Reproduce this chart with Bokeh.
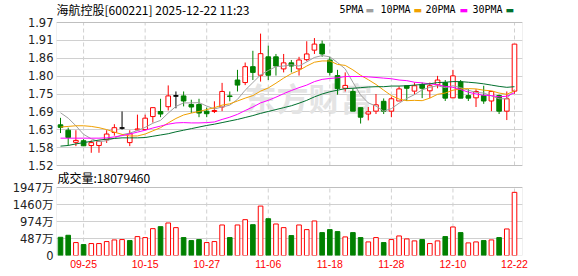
from bokeh.plotting import figure
from bokeh.models import Range1d, FixedTicker, Label, ColumnDataSource, BoxAnnotation
from bokeh.embed import file_html
from bokeh.resources import INLINE

# ---------------- data ----------------
dates = ["09-22", "09-23", "09-24", "09-25", "09-26", "09-29", "09-30", "10-09", "10-10", "10-13",
         "10-14", "10-15", "10-16", "10-17", "10-20", "10-21", "10-22", "10-23", "10-24", "10-27",
         "10-28", "10-29", "10-30", "10-31", "11-03", "11-04", "11-05", "11-06", "11-07", "11-10",
         "11-11", "11-12", "11-13", "11-14", "11-17", "11-18", "11-19", "11-20", "11-21", "11-24",
         "11-25", "11-26", "11-27", "11-28", "12-01", "12-02", "12-03", "12-04", "12-05", "12-08",
         "12-09", "12-10", "12-11", "12-12", "12-15", "12-16", "12-17", "12-18", "12-19", "12-22"]

opens = [1.648, 1.631, 1.593, 1.598, 1.583, 1.583, 1.601, 1.624, 1.638, 1.592,
         1.632, 1.633, 1.674, 1.690, 1.705, 1.739, 1.739, 1.712, 1.712, 1.691,
         1.690, 1.704, 1.739, 1.789, 1.781, 1.831, 1.804, 1.862, 1.862, 1.824,
         1.843, 1.824, 1.853, 1.883, 1.902, 1.852, 1.803, 1.763, 1.753, 1.702,
         1.682, 1.691, 1.722, 1.691, 1.723, 1.771, 1.754, 1.775, 1.755, 1.774,
         1.781, 1.733, 1.783, 1.740, 1.733, 1.740, 1.723, 1.740, 1.691, 1.754]
highs = [1.670, 1.639, 1.631, 1.603, 1.599, 1.598, 1.631, 1.650, 1.690, 1.631,
         1.680, 1.680, 1.702, 1.730, 1.772, 1.753, 1.753, 1.727, 1.730, 1.702,
         1.722, 1.780, 1.753, 1.821, 1.844, 1.881, 1.935, 1.897, 1.871, 1.871,
         1.852, 1.862, 1.911, 1.921, 1.913, 1.862, 1.821, 1.813, 1.762, 1.702,
         1.704, 1.745, 1.731, 1.737, 1.769, 1.771, 1.781, 1.781, 1.781, 1.802,
         1.789, 1.821, 1.789, 1.760, 1.760, 1.771, 1.753, 1.743, 1.753, 1.902]
lows = [1.622, 1.583, 1.581, 1.581, 1.560, 1.560, 1.591, 1.614, 1.633, 1.581,
        1.630, 1.631, 1.655, 1.672, 1.693, 1.700, 1.706, 1.685, 1.672, 1.672,
        1.685, 1.691, 1.722, 1.753, 1.773, 1.789, 1.784, 1.789, 1.803, 1.813,
        1.813, 1.803, 1.848, 1.871, 1.862, 1.803, 1.743, 1.753, 1.691, 1.652,
        1.662, 1.682, 1.682, 1.672, 1.723, 1.723, 1.743, 1.732, 1.732, 1.763,
        1.723, 1.732, 1.732, 1.723, 1.704, 1.714, 1.691, 1.682, 1.663, 1.746]
closes = [1.640, 1.608, 1.599, 1.582, 1.592, 1.596, 1.619, 1.639, 1.638, 1.620,
          1.635, 1.669, 1.702, 1.682, 1.739, 1.739, 1.723, 1.704, 1.685, 1.683,
          1.693, 1.753, 1.737, 1.773, 1.831, 1.813, 1.872, 1.804, 1.833, 1.843,
          1.833, 1.852, 1.871, 1.902, 1.871, 1.813, 1.762, 1.772, 1.691, 1.672,
          1.689, 1.711, 1.691, 1.730, 1.761, 1.763, 1.771, 1.763, 1.771, 1.789,
          1.732, 1.802, 1.732, 1.732, 1.753, 1.723, 1.753, 1.691, 1.730, 1.902]

ma5 = [1.686, 1.669, 1.645, 1.618, 1.604, 1.595, 1.598, 1.606, 1.617, 1.622,
       1.630, 1.640, 1.653, 1.662, 1.685, 1.706, 1.717, 1.717, 1.718, 1.707,
       1.698, 1.704, 1.710, 1.728, 1.757, 1.781, 1.805, 1.819, 1.831, 1.833,
       1.837, 1.833, 1.846, 1.860, 1.866, 1.862, 1.844, 1.824, 1.782, 1.742,
       1.717, 1.707, 1.691, 1.699, 1.716, 1.731, 1.743, 1.758, 1.766, 1.771,
       1.765, 1.771, 1.765, 1.757, 1.750, 1.748, 1.739, 1.730, 1.730, 1.760]
ma10 = [1.641, 1.643, 1.645, 1.645, 1.643, 1.639, 1.633, 1.625, 1.618, 1.613,
        1.613, 1.619, 1.629, 1.639, 1.654, 1.668, 1.679, 1.685, 1.690, 1.696,
        1.702, 1.710, 1.714, 1.723, 1.732, 1.740, 1.754, 1.764, 1.779, 1.795,
        1.809, 1.819, 1.833, 1.845, 1.849, 1.849, 1.838, 1.835, 1.821, 1.804,
        1.790, 1.775, 1.757, 1.740, 1.729, 1.724, 1.725, 1.724, 1.732, 1.744,
        1.748, 1.757, 1.761, 1.762, 1.761, 1.757, 1.755, 1.748, 1.744, 1.755]
ma20 = [1.606, 1.606, 1.606, 1.606, 1.606, 1.606, 1.607, 1.610, 1.614, 1.619,
        1.625, 1.631, 1.638, 1.644, 1.650, 1.654, 1.655, 1.654, 1.654, 1.655,
        1.657, 1.665, 1.672, 1.681, 1.693, 1.704, 1.717, 1.725, 1.735, 1.746,
        1.756, 1.765, 1.773, 1.784, 1.791, 1.794, 1.796, 1.800, 1.800, 1.800,
        1.799, 1.797, 1.795, 1.793, 1.789, 1.787, 1.782, 1.780, 1.777, 1.774,
        1.769, 1.766, 1.759, 1.751, 1.745, 1.741, 1.740, 1.736, 1.738, 1.749]
ma30 = [1.581, 1.583, 1.588, 1.592, 1.596, 1.600, 1.603, 1.605, 1.607, 1.607,
        1.607, 1.608, 1.612, 1.616, 1.620, 1.626, 1.631, 1.636, 1.641, 1.646,
        1.650, 1.655, 1.660, 1.665, 1.671, 1.677, 1.684, 1.690, 1.696, 1.702,
        1.708, 1.716, 1.725, 1.736, 1.745, 1.752, 1.757, 1.762, 1.763, 1.765,
        1.767, 1.768, 1.768, 1.770, 1.770, 1.771, 1.773, 1.775, 1.777, 1.781,
        1.782, 1.784, 1.784, 1.782, 1.780, 1.777, 1.773, 1.769, 1.766, 1.768]

# volume in units of 万 (10,000 shares)
volume = [522, 579, 370, 313, 342, 342, 399, 446, 456, 427,
          541, 513, 769, 826, 931, 798, 513, 427, 456, 370,
          399, 874, 513, 874, 1026, 883, 1415, 1054, 902, 798,
          570, 874, 741, 988, 655, 741, 684, 532, 655, 513,
          389, 513, 370, 456, 560, 475, 418, 456, 342, 418,
          541, 817, 655, 361, 389, 427, 446, 513, 760, 1808]
# 1 = red (up) volume bar, 0 = green (down) volume bar
vol_up = [0, 0, 1, 0, 1, 1, 1, 1, 1, 0,
          1, 1, 1, 0, 1, 1, 0, 0, 0, 1,
          1, 1, 0, 1, 1, 0, 1, 0, 1, 1,
          0, 1, 1, 1, 0, 0, 0, 1, 0, 0,
          1, 1, 0, 1, 1, 1, 1, 0, 1, 1,
          0, 1, 0, 1, 1, 0, 1, 0, 1, 1]

price_ticks = [1.52, 1.57625, 1.6325, 1.68875, 1.745, 1.80125, 1.8575, 1.91375, 1.97]
price_tick_labels = ["1.52", "1.58", "1.63", "1.69", "1.75", "1.80", "1.86", "1.91", "1.97"]
vol_ticks = [0, 486.75, 973.5, 1460.25, 1947]
vol_tick_labels = ["0", "487万", "974万", "1460万", "1947万"]
date_tick_labels = ["09-25", "10-15", "10-27", "11-06", "11-18", "11-28", "12-10", "12-22"]

title_text = "海航控股[600221] 2025-12-22 11:23"
vol_title_text = "成交量:18079460"
ma_names = ["5PMA", "10PMA", "20PMA", "30PMA"]
ma_colors = ["#a0a0a0", "#f0a000", "#ff00ff", "#00702e"]

# ---------------- layout / styling ----------------
RED = "#ff0000"
GREEN = "#008000"
GRID = "#d0d0d0"
FRAME = "#999999"
CJK = "Noto Sans CJK SC"
AXFONT = "DejaVu Sans, Noto Sans CJK SC"

W, H = 578, 276
BORDER_L, BORDER_R, BORDER_B = 56, 56, 21
FRAME_H = H - BORDER_B                 # frame spans canvas y 0..255
PRICE_TOP, PRICE_BOT = 22, 165         # price box, canvas px
VOL_TOP, VOL_BOT = 187, 255            # volume box, canvas px

ppu = (PRICE_BOT - PRICE_TOP) / (price_ticks[-1] - price_ticks[0])
p_start = price_ticks[0] - (FRAME_H - PRICE_BOT) / ppu
p_end = price_ticks[-1] + PRICE_TOP / ppu
vppu = (VOL_BOT - VOL_TOP) / (vol_ticks[-1] - vol_ticks[0])
v_end = vol_ticks[0] + FRAME_H / vppu

n = len(dates)
idx = list(range(n))
date_tick_idx = [dates.index(d) for d in date_tick_labels]

cand_col = [RED if c > o else (GREEN if c < o else "#000000") for o, c in zip(opens, closes)]
cand_fill = ["#ffffff" if c > o else col for o, c, col in zip(opens, closes, cand_col)]
src = ColumnDataSource(dict(
    x=idx, top=[max(o, c) for o, c in zip(opens, closes)],
    bottom=[min(o, c) for o, c in zip(opens, closes)],
    high=highs, low=lows, col=cand_col, fill=cand_fill))
doji = [i for i in idx if opens[i] == closes[i]]
doji_src = ColumnDataSource(dict(x0=[i - 0.3 for i in doji], x1=[i + 0.3 for i in doji],
                                 y=[opens[i] for i in doji]))
vsrc = ColumnDataSource(dict(
    x=idx, v=volume,
    col=[RED if u else GREEN for u in vol_up],
    fill=["#ffffff" if u else GREEN for u in vol_up]))

p = figure(width=W, height=H, x_range=Range1d(-0.52, 60.04), y_range=Range1d(p_start, p_end),
           output_backend="svg", toolbar_location=None,
           min_border_left=BORDER_L, min_border_right=BORDER_R, min_border_top=0,
           min_border_bottom=BORDER_B, title=None)
p.extra_y_ranges = {"vol": Range1d(vol_ticks[0], v_end)}
p.outline_line_color = None
p.background_fill_color = "white"
p.border_fill_color = "white"

# one left axis carries both panels' tick labels: volume ticks mapped onto the price scale
vol_tick_pos = [p_start + (FRAME_H - VOL_BOT) / ppu + (t - vol_ticks[0]) * vppu / ppu for t in vol_ticks]
all_ticks = price_ticks + vol_tick_pos
all_labels = price_tick_labels + vol_tick_labels
p.yaxis.ticker = FixedTicker(ticks=all_ticks)
p.yaxis.major_label_overrides = dict(zip(all_ticks, all_labels))
p.yaxis.axis_line_color = None
p.yaxis.major_tick_line_color = None
p.yaxis.minor_tick_line_color = None
p.yaxis.major_tick_out = 0
p.yaxis.major_tick_in = 0
p.yaxis.major_label_standoff = 3
p.yaxis.major_label_text_font = AXFONT
p.yaxis.major_label_text_font_size = "11.5px"
p.yaxis.major_label_text_color = "#222222"
p.ygrid.ticker = FixedTicker(ticks=all_ticks)
p.ygrid.grid_line_color = GRID

p.xaxis.ticker = FixedTicker(ticks=date_tick_idx)
p.xaxis.major_label_overrides = dict(zip(date_tick_idx, date_tick_labels))
p.xaxis.axis_line_color = None
p.xaxis.major_tick_line_color = None
p.xaxis.minor_tick_line_color = None
p.xaxis.major_tick_out = 0
p.xaxis.major_tick_in = 0
p.xaxis.major_label_standoff = 4
p.xaxis.major_label_text_font = "Liberation Sans"
p.xaxis.major_label_text_font_size = "10.5px"
p.xaxis.major_label_text_color = RED
p.xgrid.visible = False

# vertical dashed grid lines, limited to each panel box
k = len(date_tick_idx)
p.segment(x0=date_tick_idx, y0=[price_ticks[0]] * k, x1=date_tick_idx, y1=[price_ticks[-1]] * k,
          line_color=GRID, line_width=1, line_dash="4 3")
p.segment(x0=date_tick_idx, y0=[vol_ticks[0]] * k, x1=date_tick_idx, y1=[vol_ticks[-1]] * k,
          line_color=GRID, line_width=1, line_dash="4 3", y_range_name="vol")

# watermark
p.add_layout(Label(x=252, y=FRAME_H - 96, x_units="screen", y_units="screen", text="东方财富",
                   text_font=CJK, text_font_size="32px", text_font_style="bold",
                   text_color="#e4e4e4", text_align="center", text_baseline="middle",
                   level="underlay"))

# candles
p.segment(x0="x", y0="low", x1="x", y1="high", color="col", line_width=1, source=src)
p.vbar(x="x", width=0.6, top="top", bottom="bottom", fill_color="fill", line_color="col",
       line_width=1, source=src)
p.segment(x0="x0", y0="y", x1="x1", y1="y", color="#000000", line_width=1.2, source=doji_src)

# moving averages
for ma, col in zip([ma5, ma10, ma20, ma30], ma_colors):
    p.line(idx, ma, line_color=col, line_width=1)

# volume bars
p.vbar(x="x", width=0.6, top="v", bottom=0, fill_color="fill", line_color="col",
       line_width=1, source=vsrc, y_range_name="vol")

# panel boxes
p.add_layout(BoxAnnotation(bottom=price_ticks[0], top=price_ticks[-1], fill_color=None,
                           line_color=FRAME, line_width=1))
p.add_layout(BoxAnnotation(bottom=vol_ticks[0], top=vol_ticks[-1], fill_color=None,
                           line_color=FRAME, line_width=1, y_range_name="vol"))

# header texts
head_y = FRAME_H - 8.5
p.add_layout(Label(x=0, y=head_y, x_units="screen", y_units="screen", text=title_text,
                   text_font=CJK, text_font_size="12px", text_color="#000000",
                   text_align="left", text_baseline="middle"))
legend_x = [283, 324, 369, 416]
swatch_x = [309, 357, 403, 449]
for name, col, tx, sx in zip(ma_names, ma_colors, legend_x, swatch_x):
    p.add_layout(Label(x=tx, y=head_y, x_units="screen", y_units="screen", text=name,
                       text_font="DejaVu Sans Mono", text_font_size="10px", text_color="#000000",
                       text_align="left", text_baseline="middle"))
    p.add_layout(Label(x=sx, y=head_y - 0.5, x_units="screen", y_units="screen", text="▬",
                       text_font="DejaVu Sans", text_font_size="9px", text_color=col,
                       text_align="left", text_baseline="middle"))
p.add_layout(Label(x=1, y=FRAME_H - 177, x_units="screen", y_units="screen",
                   text=vol_title_text, text_font=CJK, text_font_size="12px",
                   text_color="#000000", text_align="left", text_baseline="middle"))

open("out.html", "w").write(file_html(p, INLINE))
